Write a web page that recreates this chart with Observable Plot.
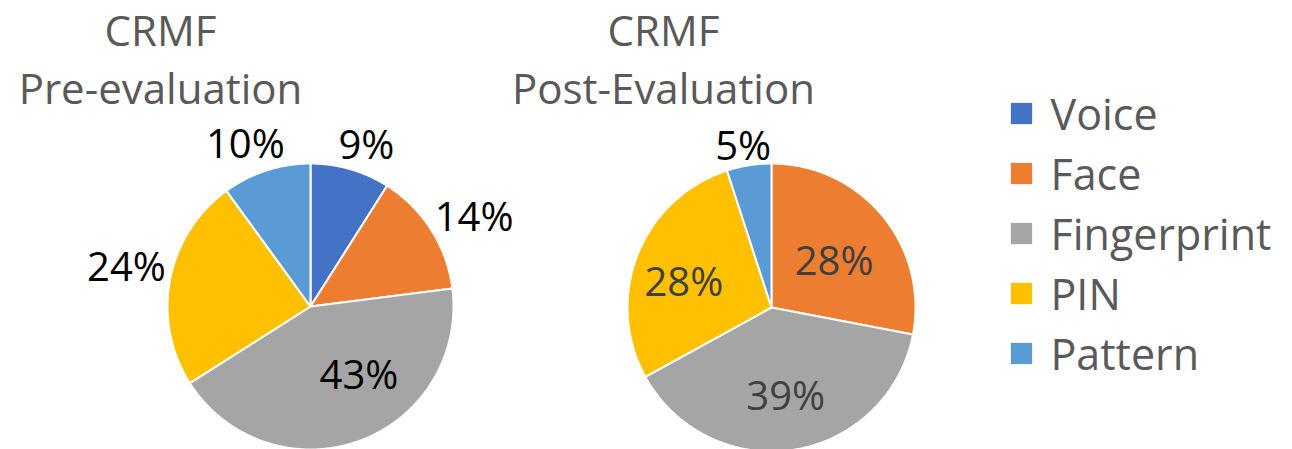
<!DOCTYPE html>
<html>
<head>
<meta charset="utf-8">
<script src="https://cdn.jsdelivr.net/npm/d3@7"></script>
<script src="https://cdn.jsdelivr.net/npm/@observablehq/plot@0.6"></script>
<style>
  html, body { margin: 0; padding: 0; background: #fff; }
  #chart svg { display: block; }
</style>
</head>
<body>
<div id="chart"></div>
<script>
// ---- Data ----
const categories = ["Voice", "Face", "Fingerprint", "PIN", "Pattern"];
const colors = ["#4472C4", "#ED7D31", "#A5A5A5", "#FFC000", "#5B9BD5"];
const preValues = [9, 14, 43, 24, 10];
const postValues = [0, 28, 39, 28, 5];
const preTitle = ["CRMF", "Pre-evaluation"];
const postTitle = ["CRMF", "Post-Evaluation"];

// ---- Layout ----
const W = 1292, H = 449;
const FONT = "Open Sans, sans-serif";
const pies = [
  {key: "pre", values: preValues, title: preTitle, cx: 310, cy: 306, r: 143, tx: 160,
   labelR: [170, 186, 85, 188, 174], labelNudge: [3, 4, -15, 1, -4],
   labelFill: ["#000", "#000", "#000", "#000", "#000"]},
  {key: "post", values: postValues, title: postTitle, cx: 771, cy: 307, r: 144, tx: 663,
   labelR: [160, 77, 91, 91, 163], labelNudge: [0, 4, 0, -6, -1],
   labelFill: ["#000", "#404040", "#404040", "#404040", "#000"]}
];

const slicePts = [];
const labels = [];
const titles = [];
for (const p of pies) {
  const total = d3.sum(p.values);
  let acc = 0;
  p.values.forEach((v, i) => {
    const a0 = acc / total * 360, a1 = (acc + v) / total * 360;
    acc += v;
    if (v <= 0) return;
    const id = p.key + "-" + categories[i];
    slicePts.push({id, cat: categories[i], x: p.cx, y: p.cy});
    const n = Math.max(2, Math.ceil(a1 - a0) * 2);
    for (let k = 0; k <= n; k++) {
      const a = (a0 + (a1 - a0) * k / n) * Math.PI / 180;
      slicePts.push({id, cat: categories[i], x: p.cx + p.r * Math.sin(a), y: p.cy - p.r * Math.cos(a)});
    }
    slicePts.push({id, cat: categories[i], x: p.cx, y: p.cy});
    const am = ((a0 + a1) / 2 + p.labelNudge[i]) * Math.PI / 180;
    labels.push({text: v + "%", x: p.cx + p.labelR[i] * Math.sin(am), y: p.cy - p.labelR[i] * Math.cos(am), fill: p.labelFill[i]});
  });
  titles.push({text: p.title[0], x: p.tx, y: 32});
  titles.push({text: p.title[1], x: p.tx, y: 90});
}

const legendRows = categories.map((c, i) => ({cat: c, y: 113 + i * 60}));

const chart = Plot.plot({
  width: W,
  height: H,
  margin: 0,
  x: {domain: [0, W], range: [0, W], axis: null},
  y: {domain: [0, H], range: [0, H], axis: null},
  color: {domain: categories, range: colors},
  style: {background: "#fff", fontFamily: FONT},
  marks: [
    Plot.line(slicePts, {x: "x", y: "y", z: "id", fill: "cat", stroke: "#fff", strokeWidth: 2, strokeLinejoin: "round", curve: "linear"}),
    Plot.text(labels, {x: "x", y: "y", text: "text", fill: d => d.fill, fontSize: 40, fontFamily: FONT}),
    Plot.text(titles, {x: "x", y: "y", text: "text", fill: "#595959", fontSize: 42, fontFamily: FONT}),
    Plot.dot(legendRows, {x: () => 1021, y: "y", symbol: "square", r: 12, fill: "cat", stroke: null}),
    Plot.text(legendRows, {x: () => 1050, y: d => d.y + 3, text: "cat", textAnchor: "start", fill: "#595959", fontSize: 43, fontFamily: FONT})
  ]
});
document.getElementById("chart").appendChild(chart);
</script>
</body>
</html>
